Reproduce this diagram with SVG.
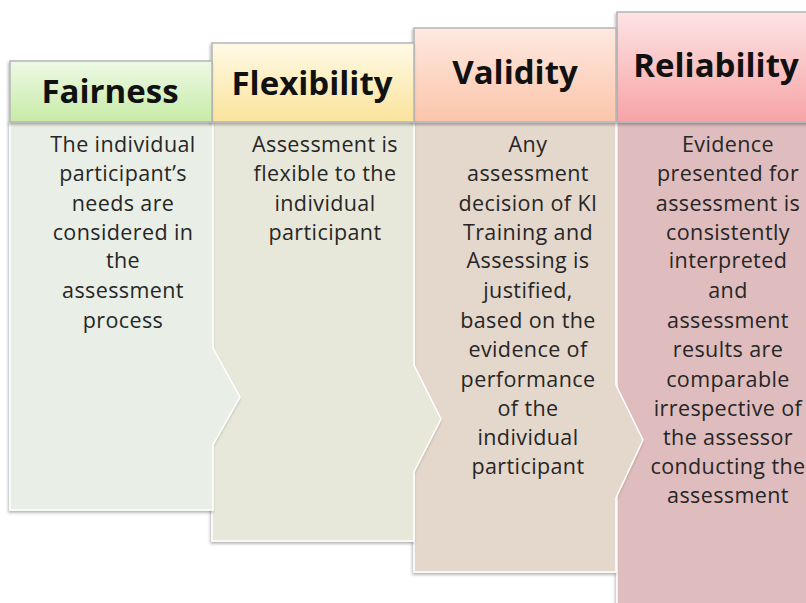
<svg xmlns="http://www.w3.org/2000/svg" width="806" height="603" viewBox="0 0 806 603">
<defs>
<linearGradient id="gFair" x1="0" y1="0" x2="0" y2="1"><stop offset="0" stop-color="#eef9e6"/><stop offset="1" stop-color="#c6eba6"/></linearGradient>
<linearGradient id="gFlex" x1="0" y1="0" x2="0" y2="1"><stop offset="0" stop-color="#fefae6"/><stop offset="1" stop-color="#fbe39c"/></linearGradient>
<linearGradient id="gVal" x1="0" y1="0" x2="0" y2="1"><stop offset="0" stop-color="#fee9e0"/><stop offset="1" stop-color="#fbc5aa"/></linearGradient>
<linearGradient id="gRel" x1="0" y1="0" x2="0" y2="1"><stop offset="0" stop-color="#fde4e4"/><stop offset="1" stop-color="#f7a3a6"/></linearGradient>
<filter id="sh" x="-10%" y="-10%" width="120%" height="120%"><feDropShadow dx="-1" dy="2" stdDeviation="1.5" flood-color="#000" flood-opacity="0.3"/></filter>
</defs>
<style>
.hd{stroke:#b5b5b5;stroke-width:1.5;filter:url(#sh)}
.bd{stroke:#ffffff;stroke-width:1.5;filter:url(#sh)}
.ht{font-family:"Open Sans",Lato,"Liberation Sans",sans-serif;font-weight:bold;font-size:33px;fill:#111;text-anchor:middle}
.bt{font-family:"Open Sans",Lato,"Liberation Sans",sans-serif;font-size:21.5px;letter-spacing:0.4px;fill:#262626;text-anchor:middle}
</style>
<rect width="806" height="603" fill="#ffffff"/>
<g id="reliability">
<path class="bd" d="M617,122 H810 V610 H617 Z" fill="#dfbcbd"/>
</g>
<g id="validity">
<path class="bd" d="M414,122 H616 V385 L643,440 L616,498 V572 H414 Z" fill="#e4d7cc"/>
</g>
<g id="flexibility">
<path class="bd" d="M212,122 H414 V365 L441,419 L414,472 V541 H212 Z" fill="#e8e8da"/>
</g>
<g id="fairness">
<path class="bd" d="M10,122 H213 V348 L240,397 L213,445 V510 H10 Z" fill="#e9efe6"/>
</g>
<g id="headers">
<rect class="hd" x="617" y="12" width="200" height="110" fill="url(#gRel)"/>
<rect class="hd" x="414" y="28" width="202" height="94" fill="url(#gVal)"/>
<rect class="hd" x="212" y="43" width="202" height="79" fill="url(#gFlex)"/>
<rect class="hd" x="10" y="61" width="202" height="61" fill="url(#gFair)"/>
<text class="ht" x="110" y="103">Fairness</text>
<text class="ht" x="312" y="95">Flexibility</text>
<text class="ht" x="515" y="84">Validity</text>
<text class="ht" x="716" y="77">Reliability</text>
</g>
<g id="texts">
<text class="bt" x="123" y="152">The individual</text>
<text class="bt" x="123" y="181">participant’s</text>
<text class="bt" x="123" y="211">needs are</text>
<text class="bt" x="123" y="240">considered in</text>
<text class="bt" x="123" y="268">the</text>
<text class="bt" x="123" y="298">assessment</text>
<text class="bt" x="123" y="328">process</text>

<text class="bt" x="325" y="152">Assessment is</text>
<text class="bt" x="325" y="181">flexible to the</text>
<text class="bt" x="325" y="211">individual</text>
<text class="bt" x="325" y="240">participant</text>

<text class="bt" x="528" y="152">Any</text>
<text class="bt" x="528" y="181">assessment</text>
<text class="bt" x="528" y="211">decision of KI</text>
<text class="bt" x="528" y="240">Training and</text>
<text class="bt" x="528" y="268">Assessing is</text>
<text class="bt" x="528" y="298">justified,</text>
<text class="bt" x="528" y="328">based on the</text>
<text class="bt" x="528" y="357">evidence of</text>
<text class="bt" x="528" y="387">performance</text>
<text class="bt" x="528" y="416">of the</text>
<text class="bt" x="528" y="445">individual</text>
<text class="bt" x="528" y="474">participant</text>

<text class="bt" x="728" y="152">Evidence</text>
<text class="bt" x="728" y="181">presented for</text>
<text class="bt" x="728" y="211">assessment is</text>
<text class="bt" x="728" y="240">consistently</text>
<text class="bt" x="728" y="268">interpreted</text>
<text class="bt" x="728" y="298">and</text>
<text class="bt" x="728" y="328">assessment</text>
<text class="bt" x="728" y="357">results are</text>
<text class="bt" x="728" y="387">comparable</text>
<text class="bt" x="728" y="416">irrespective of</text>
<text class="bt" x="728" y="445">the assessor</text>
<text class="bt" x="728" y="474">conducting the</text>
<text class="bt" x="728" y="503">assessment</text>
</g>
</svg>
